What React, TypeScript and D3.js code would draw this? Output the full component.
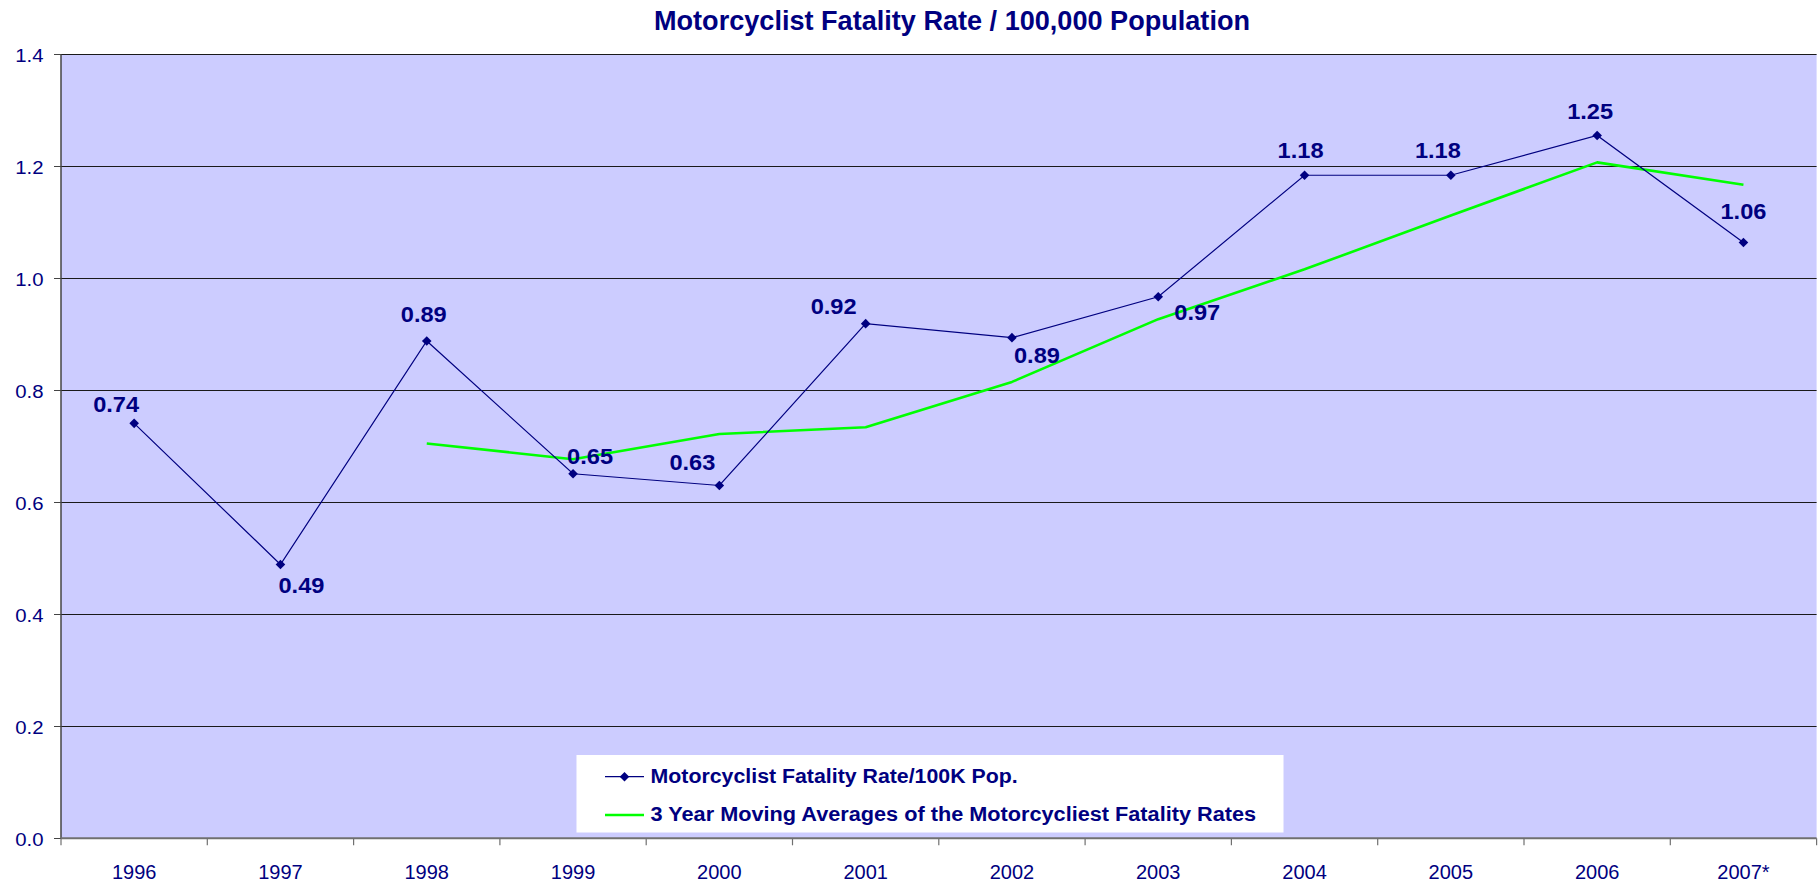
import React from "react";
import * as d3 from "d3";

const years = ["1996", "1997", "1998", "1999", "2000", "2001", "2002", "2003", "2004", "2005", "2006", "2007*"];
const fatalityRate = [0.741, 0.489, 0.888, 0.651, 0.63, 0.919, 0.894, 0.967, 1.184, 1.184, 1.255, 1.064];
const rateLabels = ["0.74", "0.49", "0.89", "0.65", "0.63", "0.92", "0.89", "0.97", "1.18", "1.18", "1.25", "1.06"];
const movingAverage: (number | null)[] = [null, null, 0.705, 0.677, 0.722, 0.734, 0.815, 0.927, 1.016, 1.112, 1.207, 1.167];
const yTicks = [0, 0.2, 0.4, 0.6, 0.8, 1.0, 1.2, 1.4];
const titleText = "Motorcyclist Fatality Rate / 100,000 Population";
const legendLabels = ["Motorcyclist Fatality Rate/100K Pop.", "3 Year Moving Averages of the Motorcycliest Fatality Rates"];

// label placement offsets (dx, baseline dy) relative to each point
const labelOffsets: [number, number][] = [
  [-18, -11], [21, 29], [-3, -19], [17, -10], [-27, -16], [-32, -10],
  [25, 25], [39, 23], [-4, -17], [-13, -17], [-7, -17], [0, -23],
];

const NAVY = "#000080";
const GREEN = "#00ff00";
const FONT = "'Liberation Sans', Arial, sans-serif";

const W = 1820, H = 885;
const L = 61, R = 1816.6, T = 54.3, B = 838.3;

function SText(props: { x: number; y: number; sx?: number; anchor?: string; size: number; bold?: boolean; children: React.ReactNode }) {
  const { x, y, sx = 1, anchor = "middle", size, bold } = props;
  return (
    <text
      transform={`translate(${x},${y}) scale(${sx},1)`}
      textAnchor={anchor}
      fontSize={size}
      fontWeight={bold ? "bold" : "normal"}
      fontFamily={FONT}
      fill={NAVY}
    >
      {props.children}
    </text>
  );
}

export default function App() {
  const x = d3.scaleBand<string>().domain(years).range([L, R]).paddingInner(0).paddingOuter(0);
  const bw = x.bandwidth();
  const cx = (i: number) => (x(years[i]) as number) + bw / 2;
  const y = d3.scaleLinear().domain([0, 1.4]).range([B, T]);

  const rateLine = d3.line<number>().x((_, i) => cx(i)).y((v) => y(v))(fatalityRate) || "";
  const avgLine =
    d3
      .line<number | null>()
      .defined((v) => v !== null)
      .x((_, i) => cx(i))
      .y((v) => y(v as number))(movingAverage) || "";

  const diamond = d3.symbol().type(d3.symbolSquare).size(46)() || "";

  return (
    <svg width={W} height={H} style={{ position: "absolute", left: 0, top: 0, background: "#ffffff" }}>
      <rect x={0} y={0} width={W} height={H} fill="#ffffff" />
      {/* title */}
      <text
        x={952}
        y={29.5}
        textAnchor="middle"
        fontSize={27.5}
        fontWeight="bold"
        fontFamily={FONT}
        fill={NAVY}
        textLength={596}
        lengthAdjust="spacingAndGlyphs"
      >
        {titleText}
      </text>

      {/* plot area */}
      <rect x={L} y={T} width={R - L} height={B - T} fill="#ccccff" />

      {/* gridlines */}
      {yTicks.filter((t) => t > 0).map((t) => (
        <line key={"g" + t} x1={L} x2={R} y1={Math.round(y(t)) + 0.5} y2={Math.round(y(t)) + 0.5} stroke="#1a1a1a" strokeWidth={1} />
      ))}

      {/* y axis */}
      <line x1={L} x2={L} y1={T} y2={B} stroke="#444444" strokeWidth={1.5} />
      {yTicks.map((t) => (
        <g key={"y" + t}>
          <line x1={L - 7} x2={L} y1={Math.round(y(t)) + 0.5} y2={Math.round(y(t)) + 0.5} stroke="#444444" strokeWidth={1} />
          <SText x={43.5} y={y(t) + 7.4} sx={1.13} anchor="end" size={18}>
            {t.toFixed(1)}
          </SText>
        </g>
      ))}

      {/* x axis */}
      <line x1={L} x2={R} y1={B} y2={B} stroke="#707070" strokeWidth={2} />
      {d3.range(years.length + 1).map((i) => (
        <line key={"xt" + i} x1={L + i * bw} x2={L + i * bw} y1={B} y2={B + 7} stroke="#707070" strokeWidth={1.2} />
      ))}
      {years.map((yr, i) => (
        <SText key={"xl" + yr} x={cx(i)} y={879} size={20}>
          {yr}
        </SText>
      ))}

      {/* moving average line */}
      <path d={avgLine} fill="none" stroke={GREEN} strokeWidth={2.6} strokeLinejoin="round" />

      {/* fatality rate line */}
      <path d={rateLine} fill="none" stroke={NAVY} strokeWidth={1.2} />
      {fatalityRate.map((v, i) => (
        <path key={"m" + i} d={diamond} transform={`translate(${cx(i)},${y(v)}) rotate(45)`} fill={NAVY} />
      ))}

      {/* data labels */}
      {fatalityRate.map((v, i) => (
        <SText key={"dl" + i} x={cx(i) + labelOffsets[i][0]} y={y(v) + labelOffsets[i][1]} sx={1.05} size={22.5} bold>
          {rateLabels[i]}
        </SText>
      ))}

      {/* legend */}
      <rect x={576.5} y={755} width={707} height={77.5} fill="#ffffff" />
      <line x1={605} x2={644} y1={776.7} y2={776.7} stroke={NAVY} strokeWidth={1.2} />
      <path d={diamond} transform={`translate(624.5,776.7) rotate(45)`} fill={NAVY} />
      <text x={650.6} y={783} fontSize={20} fontWeight="bold" fontFamily={FONT} fill={NAVY} textLength={367} lengthAdjust="spacingAndGlyphs">
        {legendLabels[0]}
      </text>
      <line x1={605} x2={644} y1={815} y2={815} stroke={GREEN} strokeWidth={2.6} />
      <text x={650.6} y={821.3} fontSize={20} fontWeight="bold" fontFamily={FONT} fill={NAVY} textLength={605.5} lengthAdjust="spacingAndGlyphs">
        {legendLabels[1]}
      </text>
    </svg>
  );
}
